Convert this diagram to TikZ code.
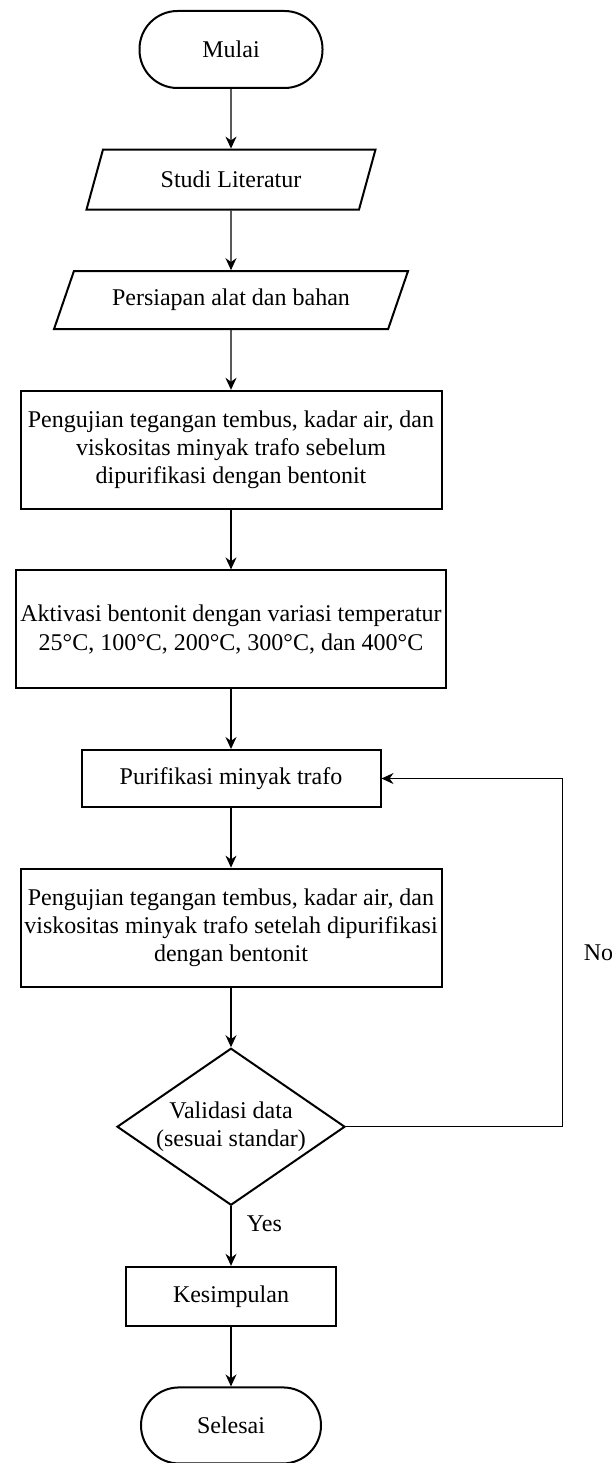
\documentclass[tikz,border=0pt]{standalone}
\usepackage{fontspec}
\setmainfont{Liberation Serif}
\usetikzlibrary{positioning,shapes.geometric,arrows.meta}

\begin{document}
\begin{tikzpicture}[x=1pt,y=1pt,>={Stealth[length=12pt,width=11pt]},node distance=59.6pt,
  every node/.style={font=\fontsize{24}{28.3}\selectfont},
  proc/.style={draw,line width=2pt,align=center,inner sep=2pt,minimum width=421pt,minimum height=118pt},
  term/.style={draw,line width=2pt,rounded corners=38pt,minimum width=183pt,minimum height=77pt},
  io/.style={draw,line width=2pt,trapezium,trapezium left angle=55,trapezium right angle=125,trapezium stretches body,minimum width=289pt,minimum height=60pt},
  dec/.style={draw,line width=2pt,diamond,align=center,shape aspect=1.45,minimum width=228pt,minimum height=157pt,inner sep=0pt},
  flow/.style={->,line width=1.3pt}]
\useasboundingbox (0,0) rectangle (611,-1463);
\node[term] (mulai) at (231,-49.5) {Mulai};
\node[io,below=of mulai] (studi) {Studi Literatur};
\node[io,below=of studi,minimum width=354pt,minimum height=58pt] (persiapan) {Persiapan alat dan bahan};
\node[proc,below=of persiapan] (uji1) {Pengujian tegangan tembus, kadar air, dan\\viskositas minyak trafo sebelum\\dipurifikasi dengan bentonit};
\node[proc,below=of uji1,minimum width=430pt] (aktivasi) {Aktivasi bentonit dengan variasi temperatur\\25°C, 100°C, 200°C, 300°C, dan 400°C};
\node[proc,below=of aktivasi,minimum width=299pt,minimum height=57pt] (purifikasi) {Purifikasi minyak trafo};
\node[proc,below=of purifikasi] (uji2) {Pengujian tegangan tembus, kadar air, dan\\viskositas minyak trafo setelah dipurifikasi\\dengan bentonit};
\node[dec,below=of uji2] (validasi) {Validasi data\\(sesuai standar)};
\node[proc,below=of validasi,minimum width=210pt,minimum height=59pt] (kesimpulan) {Kesimpulan};
\node[term,below=of kesimpulan,minimum width=180pt,minimum height=76pt] (selesai) {Selesai};
\coordinate[right=216pt of validasi.east] (balik);
% alur utama
\draw[flow] (mulai)--(studi);
\draw[flow] (studi)--(persiapan);
\draw[flow] (persiapan)--(uji1);
\draw[flow] (uji1)--(aktivasi);
\draw[flow] (aktivasi)--(purifikasi);
\draw[flow] (purifikasi)--(uji2);
\draw[flow] (uji2)--(validasi);
\draw[flow] (validasi)--node[pos=.3,right=12pt]{Yes}(kesimpulan);
\draw[flow] (kesimpulan)--(selesai);
% kembali ke purifikasi
\draw[flow,line width=1pt] (validasi.east)--(balik)--node[right=18pt]{No}(balik |- purifikasi.east)--(purifikasi.east);
\end{tikzpicture}
\end{document}
